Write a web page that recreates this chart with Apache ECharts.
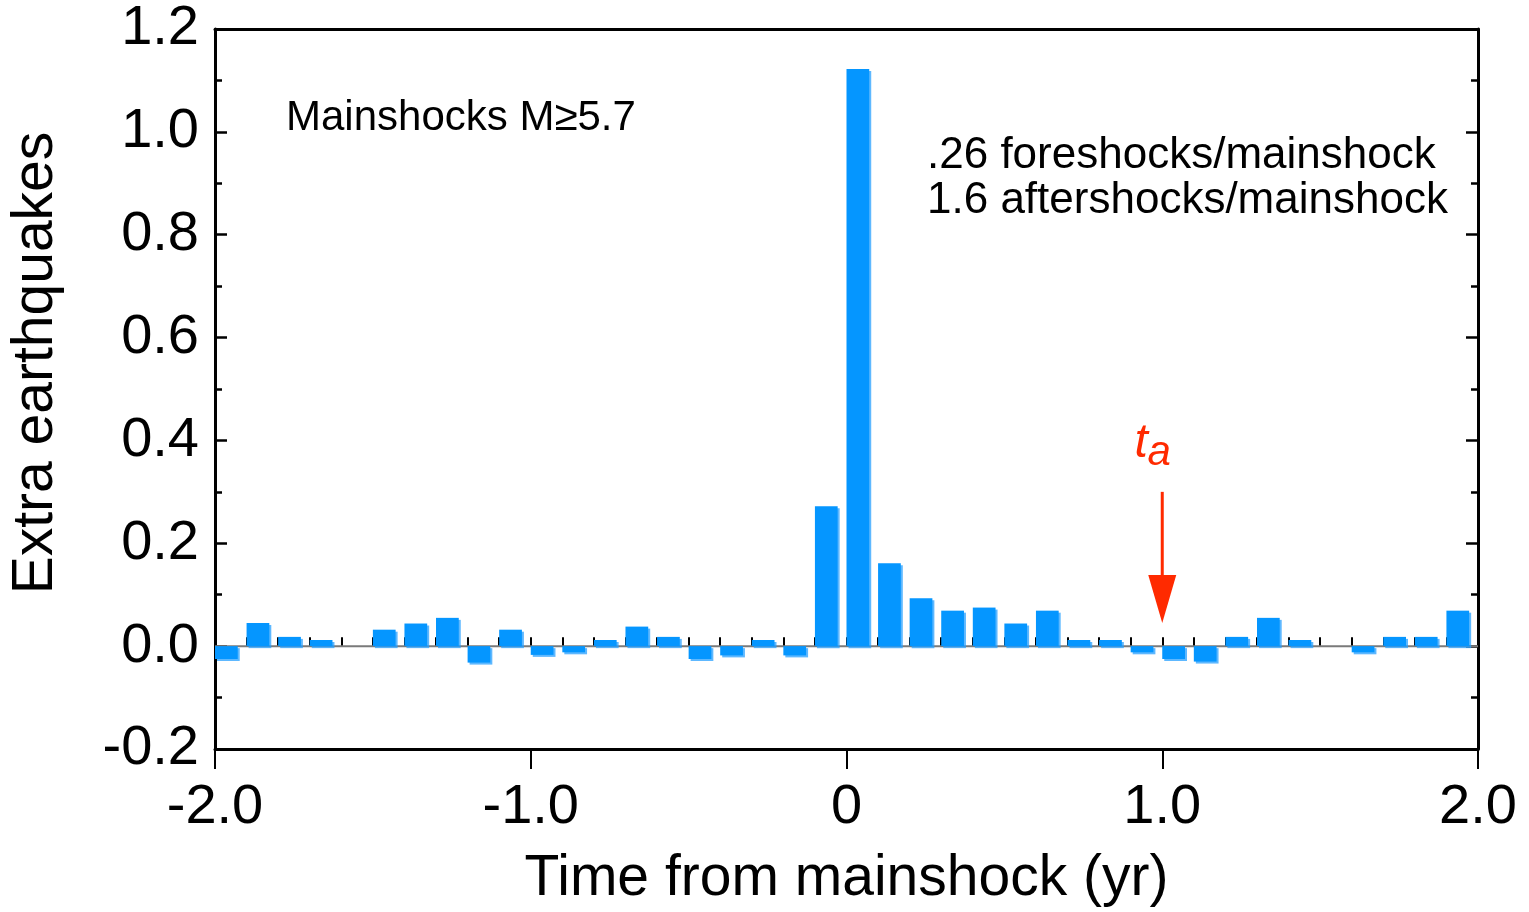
<!DOCTYPE html>
<html>
<head>
<meta charset="utf-8">
<title>Extra earthquakes around mainshocks</title>
<script src="https://cdn.jsdelivr.net/npm/echarts@6/dist/echarts.min.js"></script>
<style>
  html, body { margin: 0; padding: 0; background: #fff; }
  #chart { width: 1529px; height: 912px; }
</style>
</head>
<body>
<div id="chart"></div>
<script>
// Left edge of each 0.1-yr time bin (years from mainshock)
const binStarts = [
  -2.0, -1.9, -1.8, -1.7, -1.6, -1.5, -1.4, -1.3, -1.2, -1.1,
  -1.0, -0.9, -0.8, -0.7, -0.6, -0.5, -0.4, -0.3, -0.2, -0.1,
   0.0,  0.1,  0.2,  0.3,  0.4,  0.5,  0.6,  0.7,  0.8,  0.9,
   1.0,  1.1,  1.2,  1.3,  1.4,  1.5,  1.6,  1.7,  1.8,  1.9
];
// Extra earthquakes per mainshock in each bin
const extraQuakes = [
  -0.025, 0.045, 0.018, 0.012, 0.000, 0.032, 0.044, 0.055, -0.032, 0.032,
  -0.017, -0.012, 0.012, 0.038, 0.018, -0.025, -0.018, 0.012, -0.018, 0.272,
   1.122, 0.161, 0.093, 0.069, 0.075, 0.044, 0.069, 0.012, 0.012, -0.012,
  -0.025, -0.030, 0.018, 0.055, 0.012, 0.000, -0.012, 0.018, 0.018, 0.069
];
// Axis ticks
const xTicks = [-2.0, -1.0, 0.0, 1.0, 2.0];
const yTicks = [-0.2, 0.0, 0.2, 0.4, 0.6, 0.8, 1.0, 1.2];
// Marker for t_a: time, arrow start value, arrow tip value
const taMarker = [1.0, 0.30, 0.045];
const taLabelValue = 0.39;

const BAR_SPAN = 0.072;  // filled fraction of each 0.1-yr bin
const FONT = "'Liberation Sans', Arial, Helvetica, sans-serif";
const BLUE = '#0596ff';
const RED = '#ff2a00';

const barData = binStarts.map((t, i) => [t, extraQuakes[i]]);

const chart = echarts.init(document.getElementById('chart'), null, { renderer: 'canvas' });

const fmt1 = v => (Math.abs(v) < 1e-9 ? '0' : v.toFixed(1));

const option = {
  backgroundColor: '#fff',
  animation: false,
  textStyle: { fontFamily: FONT, color: '#000' },
  grid: { left: 215, right: 51, top: 29, bottom: 163, containLabel: false, outerBoundsMode: 'none' },
  xAxis: [
    {
      type: 'value', position: 'bottom',
      min: xTicks[0], max: xTicks[xTicks.length - 1], interval: 1,
      axisLine: { show: true, onZero: false, lineStyle: { color: '#000', width: 3 } },
      axisTick: { show: true, inside: false, length: 20, lineStyle: { color: '#000', width: 2 } },
      axisLabel: { fontSize: 56, margin: 31, color: '#000', fontFamily: FONT, formatter: fmt1 },
      splitLine: { show: false },
      name: 'Time from mainshock (yr)', nameLocation: 'middle', nameGap: 102,
      nameTextStyle: { fontSize: 57, color: '#000', fontFamily: FONT }
    },
    {
      type: 'value', position: 'bottom',
      min: -2, max: 2, interval: 0.1,
      axisLine: { show: false },
      axisTick: { show: true, inside: true, length: 9, lineStyle: { color: '#000', width: 2 } },
      axisLabel: { show: false },
      splitLine: { show: false }
    },
    {
      type: 'value', position: 'top',
      min: -2, max: 2,
      axisLine: { show: true, onZero: false, lineStyle: { color: '#000', width: 3 } },
      axisTick: { show: false },
      axisLabel: { show: false },
      splitLine: { show: false }
    }
  ],
  yAxis: [
    {
      type: 'value', position: 'left',
      min: yTicks[0], max: yTicks[yTicks.length - 1], interval: 0.2,
      axisLine: { show: true, onZero: false, lineStyle: { color: '#000', width: 3 } },
      axisTick: { show: true, inside: true, length: 12, lineStyle: { color: '#000', width: 2.5 } },
      minorTick: { show: true, splitNumber: 2, length: 7, lineStyle: { color: '#000', width: 2.5 } },
      axisLabel: { fontSize: 56, margin: 16, color: '#000', fontFamily: FONT, formatter: v => v.toFixed(1) },
      splitLine: { show: false },
      name: 'Extra earthquakes', nameLocation: 'middle', nameGap: 150, nameRotate: 90,
      nameTextStyle: { fontSize: 57, color: '#000', fontFamily: FONT, padding: [0, 0, 0, 52] }
    },
    {
      type: 'value', position: 'right',
      min: -0.2, max: 1.2, interval: 0.2,
      axisLine: { show: true, onZero: false, lineStyle: { color: '#000', width: 3 } },
      axisTick: { show: true, inside: true, length: 12, lineStyle: { color: '#000', width: 2.5 } },
      minorTick: { show: true, splitNumber: 2, length: 7, lineStyle: { color: '#000', width: 2.5 } },
      axisLabel: { show: false },
      splitLine: { show: false }
    }
  ],
  series: [
    {
      // zero reference line
      type: 'line', xAxisIndex: 0, yAxisIndex: 0, z: 1,
      data: [[-2, 0], [2, 0]],
      symbol: 'none', silent: true,
      lineStyle: { color: '#7a7a7a', width: 2 }
    },
    {
      // histogram bars, each drawn from the left edge of its bin
      type: 'custom', xAxisIndex: 0, yAxisIndex: 0, z: 3,
      data: barData,
      renderItem: function (params, api) {
        const t = api.value(0);
        const v = api.value(1);
        if (v === 0) return null;
        const pTop = api.coord([t, v]);
        const pBase = api.coord([t + BAR_SPAN, 0]);
        const x = pTop[0];
        const w = pBase[0] - pTop[0];
        const y = Math.min(pTop[1], pBase[1]);
        const h = Math.abs(pBase[1] - pTop[1]);
        return {
          type: 'rect',
          shape: { x: x, y: y, width: w, height: h },
          style: {
            fill: BLUE,
            shadowColor: 'rgba(40,160,255,0.75)',
            shadowOffsetX: 2, shadowOffsetY: 2, shadowBlur: 0
          }
        };
      }
    },
    {
      // t_a arrow and label
      type: 'custom', xAxisIndex: 0, yAxisIndex: 0, z: 5, silent: true,
      data: [taMarker],
      renderItem: function (params, api) {
        const t = api.value(0);
        const start = api.coord([t, api.value(1)]);
        const tip = api.coord([t, api.value(2)]);
        const lab = api.coord([t, taLabelValue]);
        const headLen = 48, headHalf = 14;
        return {
          type: 'group',
          children: [
            {
              type: 'line',
              shape: { x1: start[0], y1: start[1], x2: tip[0], y2: tip[1] - headLen + 2 },
              style: { stroke: RED, lineWidth: 3 }
            },
            {
              type: 'polygon',
              shape: { points: [[tip[0] - headHalf, tip[1] - headLen], [tip[0] + headHalf, tip[1] - headLen], [tip[0], tip[1]]] },
              style: { fill: RED }
            },
            {
              type: 'text',
              x: lab[0] - 21, y: lab[1] - 2,
              style: { text: 't', fill: RED, font: 'italic 48px ' + FONT, align: 'center', verticalAlign: 'middle' }
            },
            {
              type: 'text',
              x: lab[0] - 3, y: lab[1] + 8,
              style: { text: 'a', fill: RED, font: 'italic 42px ' + FONT, align: 'center', verticalAlign: 'middle' }
            }
          ]
        };
      }
    }
  ],
  graphic: [
    {
      type: 'text', left: 286, top: 97, z: 10,
      style: { text: 'Mainshocks M≥5.7', font: '42px ' + FONT, fill: '#000' }
    },
    {
      type: 'text', left: 927, top: 133, z: 10,
      style: {
        text: '.26 foreshocks/mainshock\n1.6 aftershocks/mainshock',
        font: '44px ' + FONT, fill: '#000', lineHeight: 45
      }
    }
  ]
};

chart.setOption(option);
</script>
</body>
</html>
